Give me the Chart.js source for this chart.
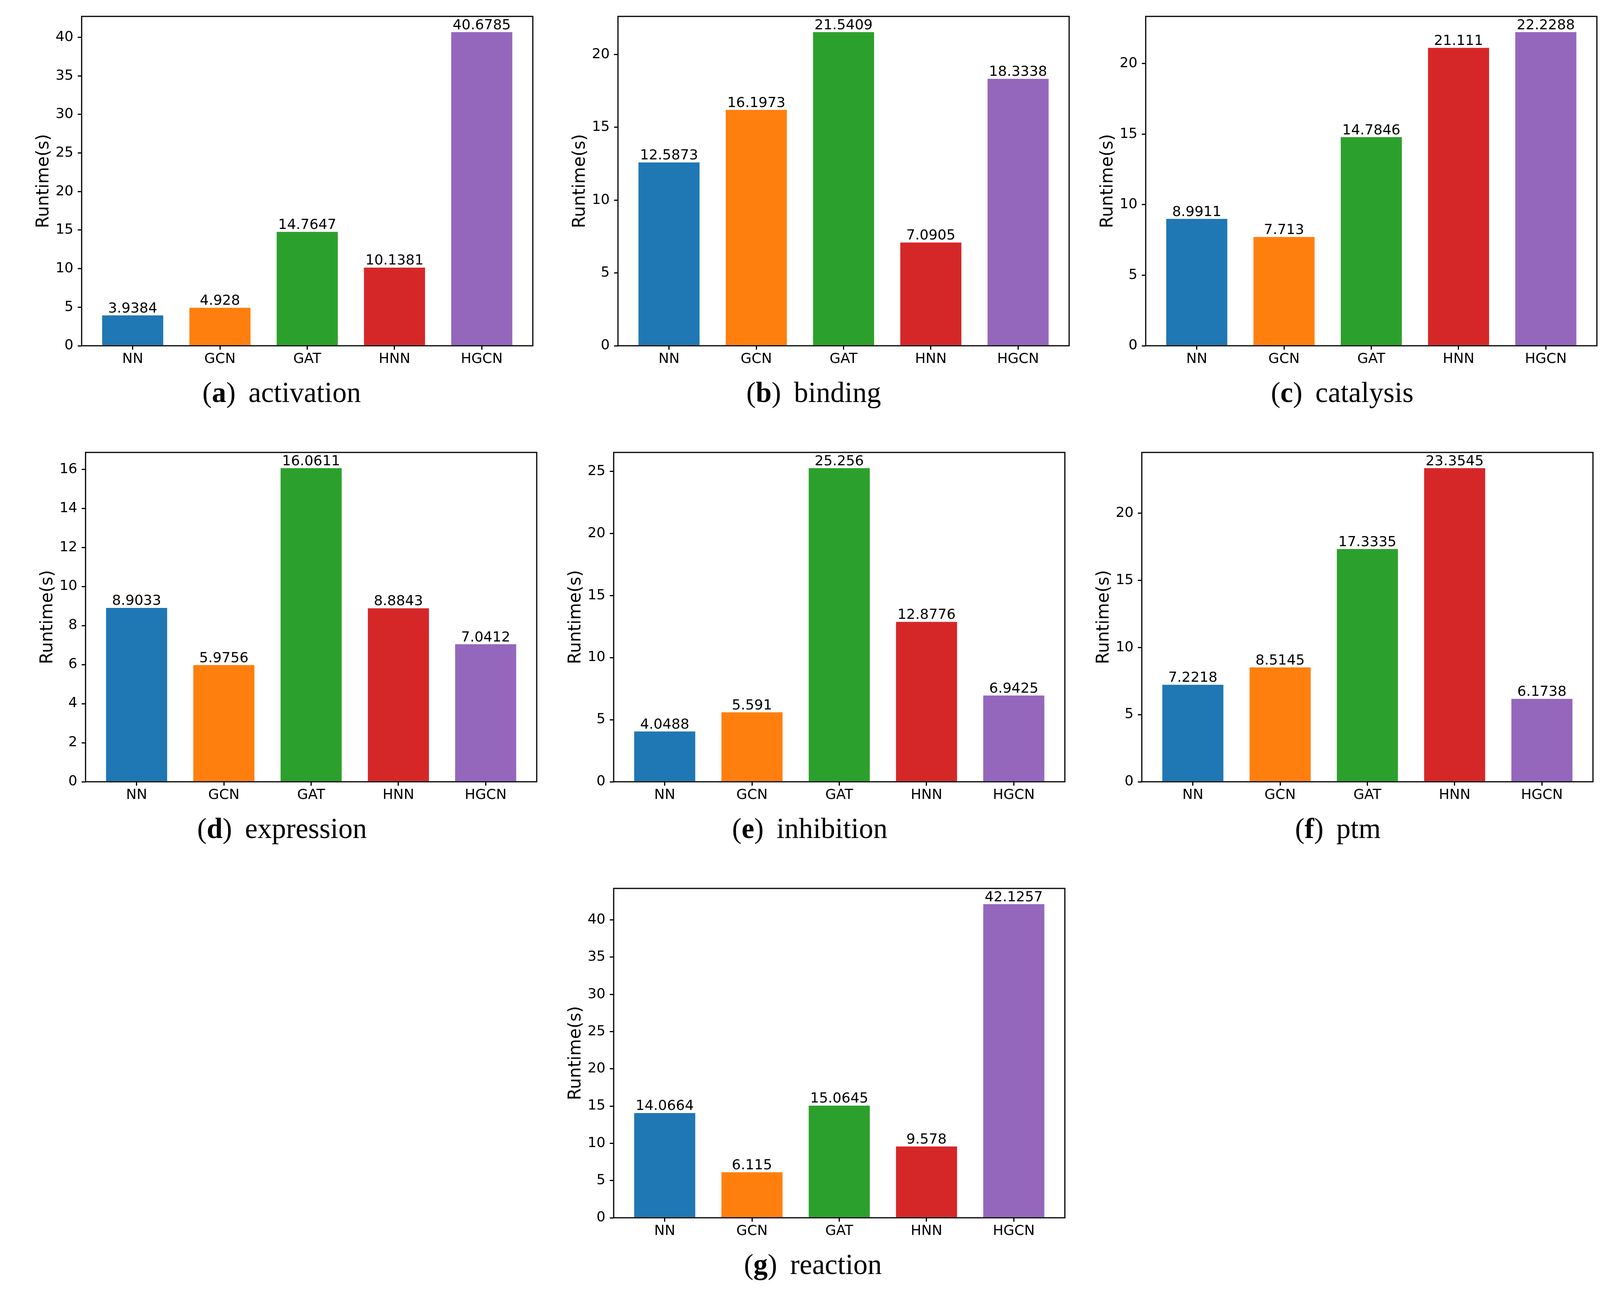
<!DOCTYPE html>
<html>
<head>
<meta charset="utf-8">
<script src="https://cdn.jsdelivr.net/npm/chart.js@4.4.1/dist/chart.umd.min.js"></script>
<style>
html, body { margin: 0; padding: 0; background: #ffffff; }
body { width: 4157px; height: 3307px; position: relative; overflow: hidden; }
.panel { position: absolute; }
.cap { position: absolute; font-family: "Liberation Serif", serif; font-size: 73px; line-height: 73px; height: 73px;
       text-align: center; white-space: nowrap; color: #000; }
.cap b { font-weight: bold; }
.cap .nm { margin-left: 0.45em; }
</style>
</head>
<body>
<script>
// ---------------- data ----------------
const categories = ['NN', 'GCN', 'GAT', 'HNN', 'HGCN'];
const barColors  = ['#1f77b4', '#ff7f0e', '#2ca02c', '#d62728', '#9467bd'];

const activation = [3.9384, 4.928, 14.7647, 10.1381, 40.6785];
const binding    = [12.5873, 16.1973, 21.5409, 7.0905, 18.3338];
const catalysis  = [8.9911, 7.713, 14.7846, 21.111, 22.2288];
const expression = [8.9033, 5.9756, 16.0611, 8.8843, 7.0412];
const inhibition = [4.0488, 5.591, 25.256, 12.8776, 6.9425];
const ptm        = [7.2218, 8.5145, 17.3335, 23.3545, 6.1738];
const reaction   = [14.0664, 6.115, 15.0645, 9.578, 42.1257];

const panelNames   = ['activation', 'binding', 'catalysis', 'expression', 'inhibition', 'ptm', 'reaction'];
const panelLetters = ['a', 'b', 'c', 'd', 'e', 'f', 'g'];
const panelValues  = [activation, binding, catalysis, expression, inhibition, ptm, reaction];
const yTickSteps   = [5, 5, 5, 2, 5, 5, 5];
const yTitle = 'Runtime(s)';

// ---------------- layout (pixels) ----------------
const plotW = 1155, plotH = 843;
const plotLeft  = [209, 1582, 2933, 219, 1571, 2923, 1571];
const plotTop   = [42, 42, 42, 1158, 1158, 1158, 2274];
const capCenter = [721, 2083, 3436, 722, 2073, 3425, 2081];
const capBase   = [1029, 1029, 1029, 2145, 2145, 2145, 3261];
const padL = 200, padT = 60, padR = 40, padB = 80;

Chart.defaults.font.family = '"DejaVu Sans"';
Chart.defaults.color = '#000';

const barLabelPlugin = {
  id: 'barLabelsAndFrame',
  afterDatasetsDraw(chart) {
    const ctx = chart.ctx;
    const meta = chart.getDatasetMeta(0);
    const vals = chart.data.datasets[0].data;
    ctx.save();
    ctx.font = '36px "DejaVu Sans"';
    ctx.fillStyle = '#000';
    ctx.textAlign = 'center';
    ctx.textBaseline = 'alphabetic';
    meta.data.forEach((el, i) => {
      ctx.fillText(String(vals[i].y), el.x, el.y - 7.5);
    });
    ctx.restore();
  },
  afterDraw(chart) {
    const a = chart.chartArea, ctx = chart.ctx;
    ctx.save();
    ctx.strokeStyle = '#000';
    ctx.lineWidth = 3;
    ctx.strokeRect(a.left, a.top, a.right - a.left, a.bottom - a.top);
    ctx.restore();
  }
};

panelNames.forEach((name, p) => {
  const values = panelValues[p];
  const n = categories.length;
  const barW = 0.7;
  const span = (n - 1) + barW;
  const xMin = -barW / 2 - 0.05 * span;
  const xMax = (n - 1) + barW / 2 + 0.05 * span;
  const yMax = Math.max(...values) * 1.05;

  const wrap = document.createElement('div');
  wrap.className = 'panel';
  const W = padL + plotW + padR, H = padT + plotH + padB;
  wrap.style.left = (plotLeft[p] - padL) + 'px';
  wrap.style.top = (plotTop[p] - padT) + 'px';
  wrap.style.width = W + 'px';
  wrap.style.height = H + 'px';
  const cv = document.createElement('canvas');
  cv.width = W; cv.height = H;
  cv.style.width = W + 'px'; cv.style.height = H + 'px';
  wrap.appendChild(cv);
  document.body.appendChild(wrap);

  new Chart(cv, {
    type: 'bar',
    data: {
      datasets: [{
        data: values.map((v, i) => ({ x: i, y: v })),
        backgroundColor: barColors,
        borderWidth: 0,
        barPercentage: 0.7,
        categoryPercentage: 1.0
      }]
    },
    options: {
      responsive: false,
      devicePixelRatio: 1,
      animation: false,
      layout: { padding: { left: 0, top: padT, right: padR, bottom: 0 } },
      plugins: { legend: { display: false }, tooltip: { enabled: false }, title: { display: false } },
      scales: {
        x: {
          type: 'linear',
          min: xMin, max: xMax,
          offset: false,
          border: { display: false },
          grid: { display: true, drawOnChartArea: false, offset: false, drawTicks: true,
                  tickLength: 10, tickWidth: 3, tickColor: '#000', lineWidth: 3, color: '#000' },
          afterBuildTicks: (scale) => { scale.ticks = categories.map((c, i) => ({ value: i })); },
          ticks: {
            autoSkip: false, maxRotation: 0, minRotation: 0, padding: 3,
            font: { size: 36 }, color: '#000',
            callback: (v) => categories[v]
          },
          afterFit: (scale) => { scale.height = padB; }
        },
        y: {
          type: 'linear',
          min: 0, max: yMax,
          border: { display: false },
          grid: { display: true, drawOnChartArea: false, drawTicks: true,
                  tickLength: 10, tickWidth: 3, tickColor: '#000', lineWidth: 3, color: '#000' },
          ticks: { stepSize: yTickSteps[p], includeBounds: false, padding: 11,
                   font: { size: 36 }, color: '#000', callback: (v) => String(v) },
          title: { display: true, text: yTitle, font: { size: 44 }, color: '#000',
                   padding: { top: 77, bottom: 0 } },
          afterFit: (scale) => { scale.width = padL; }
        }
      }
    },
    plugins: [barLabelPlugin]
  });

  const cap = document.createElement('div');
  cap.className = 'cap';
  cap.style.left = (capCenter[p] - 600) + 'px';
  cap.style.width = '1200px';
  cap.style.top = (capBase[p] - 61) + 'px';
  const open = document.createTextNode('(');
  const b = document.createElement('b'); b.textContent = panelLetters[p];
  const close = document.createTextNode(')');
  const nm = document.createElement('span'); nm.className = 'nm'; nm.textContent = name;
  cap.appendChild(open); cap.appendChild(b); cap.appendChild(close); cap.appendChild(nm);
  document.body.appendChild(cap);
});
</script>
</body>
</html>
